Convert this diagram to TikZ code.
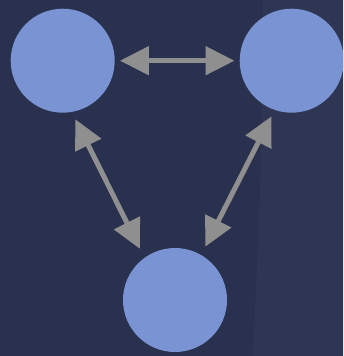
\documentclass[tikz,border=0pt]{standalone}
\definecolor{bgnavy}{RGB}{41, 49, 79}
\definecolor{bgshade}{RGB}{46, 54, 84}
\definecolor{nodeblue}{RGB}{122, 147, 211}
\definecolor{linkgray}{RGB}{143, 143, 143}
\usepackage{tikz}
\usetikzlibrary{arrows.meta, positioning, calc}

\tikzset{
  blob/.style={circle, fill=nodeblue, minimum size=104pt, inner sep=0pt},
  link/.style={linkgray, line width=5pt, {Triangle[length=29pt, width=28pt]}-{Triangle[length=29pt, width=28pt]}}
}

\begin{document}
\begin{tikzpicture}[x=1pt, y=-1pt]
  % Background
  \useasboundingbox (0, 0) rectangle (343, 356);
  \clip (0, 0) rectangle (343, 356);
  \fill[bgnavy] (0, 0) rectangle (343, 356);
  \fill[bgshade] (263, 0) .. controls (262, 150) .. (253, 356) -- (343, 356) -- (343, 0) -- cycle;

  % The three circles
  \node[blob] (left) at (62.7, 60.7) {};
  \node[blob] (right) at (291.7, 60.7) {};
  \node[blob] (bottom) at (175, 300) {};

  % Two-way links
  \draw[link, shorten <=5pt, shorten >=5pt] (left.east) -- (right.west);
  \draw[link, shorten <=8pt, shorten >=10pt] (left.-80) -- (bottom.126);
  \draw[link, shorten <=7pt, shorten >=9pt] (right.251) -- (bottom.60);
\end{tikzpicture}
\end{document}
